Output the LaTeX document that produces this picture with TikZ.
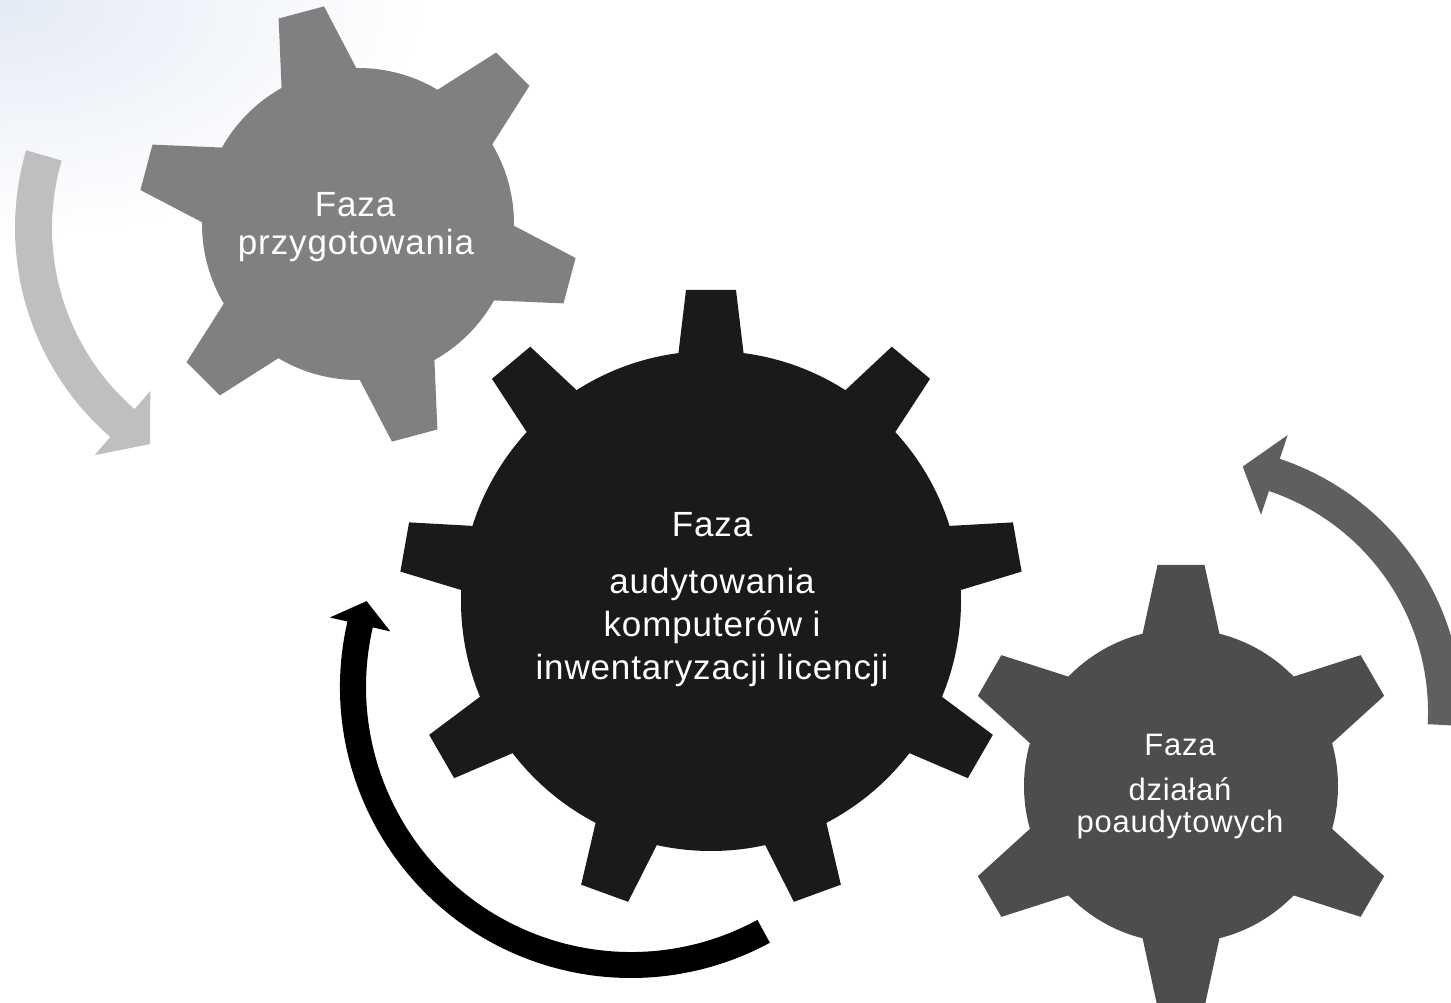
\documentclass[tikz,border=0pt]{standalone}
\usepackage{fontspec}
\setmainfont{Liberation Sans}
\newfontfamily\gearfont[LetterSpace=2.5]{Liberation Sans}
\definecolor{gearone}{HTML}{808080}
\definecolor{geartwo}{HTML}{1A1A1A}
\definecolor{gearthree}{HTML}{4D4D4D}
\definecolor{arrowone}{HTML}{BFBFBF}
\definecolor{arrowtwo}{HTML}{000000}
\definecolor{arrowthree}{HTML}{5F5F5F}
\definecolor{skyblue}{HTML}{E4EAF4}
% colour, centre, inner r, outer r, from, to, tip angle, wing
\newcommand{\cyclearrow}[8]{%
\fill[#1,shift={#2}] (#5:#3) arc[start angle=#5,end angle=#6,radius=#3]
  -- (#6:{#3-#8}) -- (#7:{(#3+#4)/2}) -- (#6:{#4+#8})
  -- (#6:#4) arc[start angle=#6,end angle=#5,radius=#4] -- cycle;}
\begin{document}
\begin{tikzpicture}[x=1pt,y=1pt,
  gtext/.style={text=white,anchor=base,inner sep=0pt,font=\gearfont\fontsize{35}{40}\selectfont},
  stext/.style={gtext,font=\gearfont\fontsize{31}{36}\selectfont}]
\useasboundingbox (0,0) rectangle (1451,1002);
\clip (0,0) rectangle (1451,1002);
\fill[white] (0,0) rectangle (1451,1002);
\shade[inner color=skyblue,outer color=white] (0,1002) ellipse (430 and 240);

\coordinate (prep) at (358,778);   % gear centres
\coordinate (audit) at (711,401);
\coordinate (post) at (1181,216);
\coordinate (turnA) at (292,774);  % arrow centres
\coordinate (turnB) at (631,315);
\coordinate (turnC) at (1195,290);

\fill[gearone] (prep) circle (156);
\foreach \a in {45,105,...,345} % edit here for the teeth
\fill[gearone,shift={(prep)},rotate=\a] (145,-40) -- (219,-23.5) -- (219,23.5) -- (145,40) -- cycle;
\fill[geartwo] (audit) circle (250);
\foreach \a in {10,50,...,330}
\fill[geartwo,shift={(audit)},rotate=\a] (240,-33.5) -- (311,-25) -- (311,25) -- (240,33.5) -- cycle;
\fill[gearthree] (post) circle (157);
\foreach \a in {30,90,...,330}
\fill[gearthree,shift={(post)},rotate=\a] (145,-40) -- (221,-23.5) -- (221,23.5) -- (145,40) -- cycle;

\cyclearrow{arrowone}{(turnA)}{240}{277}{163.7}{229}{236.7}{24}
\cyclearrow{arrowtwo}{(turnB)}{265}{291}{-61.5}{-193}{-198}{18}
\cyclearrow{arrowthree}{(turnC)}{233}{267}{-3}{71.5}{79}{25}

\node[gtext] (prepA) at (355,785) {Faza};
\node[gtext] (prepB) at (356,747) {przygotowania};
\node[gtext] (auditA) at (712,465) {Faza};
\node[gtext] (auditB) at (712,408) {audytowania};
\node[gtext] (auditC) at (712,365) {komputerów i};
\node[gtext] (auditD) at (712,322) {inwentaryzacji licencji};
\node[stext] (postA) at (1180,246) {Faza};
\node[stext] (postB) at (1180,202) {działań};
\node[stext] (postC) at (1180,170) {poaudytowych};
\end{tikzpicture}
\end{document}
